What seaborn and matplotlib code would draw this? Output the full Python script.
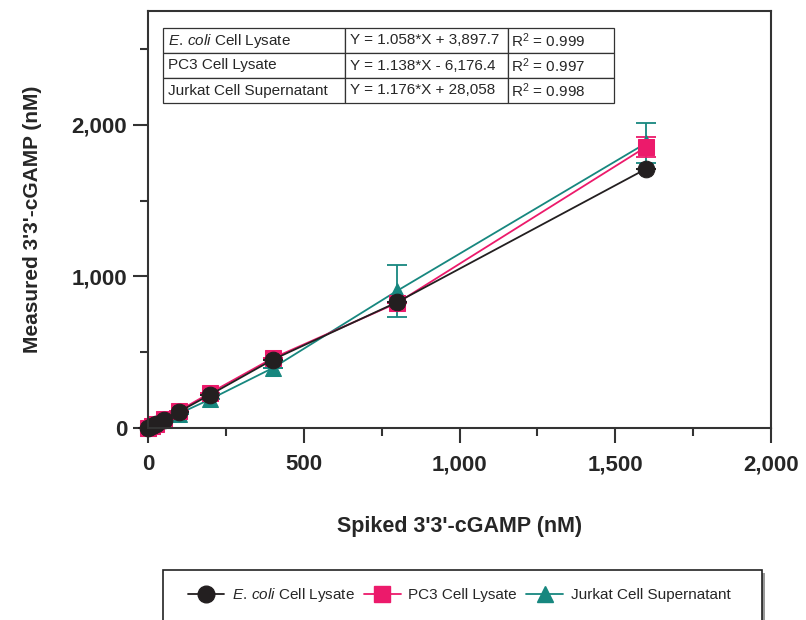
import numpy as np
import pandas as pd
import matplotlib.pyplot as plt
import matplotlib.patches as mpatches
from matplotlib.lines import Line2D
from matplotlib.ticker import MultipleLocator, FuncFormatter
import seaborn as sns

# data
spiked = [0, 12.5, 25, 50, 100, 200, 400, 800, 1600]
ecoli = [2, 14, 28, 55, 108, 220, 450, 830, 1710]
pc3 = [0, 13, 27, 57, 115, 232, 460, 825, 1855]
jurkat = [3, 16, 30, 52, 95, 190, 395, 905, 1880]
ecoli_err = [0, 0, 0, 0, 0, 0, 0, 0, 0]
pc3_err = [0, 0, 0, 0, 0, 0, 0, 0, 65]
jurkat_err = [0, 0, 0, 0, 0, 0, 0, 170, 133]

names = [r"$\it{E.\,coli}$ Cell Lysate", "PC3 Cell Lysate", "Jurkat Cell Supernatant"]
equations = ["Y = 1.058*X + 3,897.7", "Y = 1.138*X - 6,176.4", "Y = 1.176*X + 28,058"]
r_squared = ["R$^2$ = 0.999", "R$^2$ = 0.997", "R$^2$ = 0.998"]

colors = ["#231f20", "#ec1a6b", "#17877f"]
markers = ["o", "s", "^"]

sns.set_style("ticks")
plt.rcParams['font.family'] = ['Liberation Sans', 'DejaVu Sans']
plt.rcParams['mathtext.fontset'] = 'custom'
plt.rcParams['mathtext.rm'] = 'Liberation Sans'
plt.rcParams['mathtext.it'] = 'Liberation Sans:italic'
plt.rcParams['mathtext.bf'] = 'Liberation Sans:bold'

df = pd.concat([
    pd.DataFrame({"x": spiked, "y": vals, "sample": n})
    for vals, n in zip([ecoli, pc3, jurkat], names)
])

fig = plt.figure(figsize=(8.06, 6.2), dpi=100)
ax = fig.add_axes([148/806, 1 - 428/620, 623/806, 417/620])

# draw teal first so black sits on top
order = names[::-1]
sns.lineplot(data=df, x="x", y="y", hue="sample", style="sample",
             hue_order=order, style_order=order,
             palette=dict(zip(names, colors)),
             markers=dict(zip(names, markers)), dashes=False,
             markersize=12, linewidth=1.3, errorbar=None, legend=False, ax=ax)

for vals, err, c in list(zip([ecoli, pc3, jurkat], [ecoli_err, pc3_err, jurkat_err], colors))[::-1]:
    ax.errorbar(spiked, vals, yerr=err, fmt="none", color=c, ecolor=c, elinewidth=1.3,
                capsize=7, capthick=1.3, zorder=1)

for line in ax.lines:
    line.set_markeredgecolor(line.get_color())
    line.set_clip_on(False)

ax.set_xlim(0, 2000)
ax.set_ylim(0, 2750)
ax.xaxis.set_major_locator(MultipleLocator(500))
ax.xaxis.set_minor_locator(MultipleLocator(250))
ax.yaxis.set_major_locator(MultipleLocator(1000))
ax.yaxis.set_minor_locator(MultipleLocator(500))
fmt = FuncFormatter(lambda v, p: f"{int(v):,}")
ax.xaxis.set_major_formatter(fmt)
ax.yaxis.set_major_formatter(fmt)

for side in ax.spines:
    ax.spines[side].set_linewidth(1.5)
    ax.spines[side].set_color("#333333")
ax.tick_params(axis="both", which="major", length=11, width=1.5, color="#333333",
               labelsize=16)
ax.tick_params(axis="both", which="minor", length=6, width=1.5, color="#333333")
ax.tick_params(axis="x", which="major", pad=8)
ax.tick_params(axis="y", which="major", pad=4)
for lab in ax.get_xticklabels() + ax.get_yticklabels():
    lab.set_fontweight("bold")

ax.set_xlabel("Spiked 3'3'-cGAMP (nM)", fontsize=15.5, fontweight="bold", labelpad=29)
ax.set_ylabel("Measured 3'3'-cGAMP (nM)", fontsize=15, fontweight="bold", labelpad=21)

# fit table
cell_text = [[n, e, r] for n, e, r in zip(names, equations, r_squared)]
tbl = ax.table(cellText=cell_text, cellLoc="left", colWidths=[0.404, 0.361, 0.235],
               bbox=[15/623, (428-103)/417, 451/623, 75/417])
tbl.auto_set_font_size(False)
tbl.set_fontsize(11)
for cell in tbl.get_celld().values():
    cell.set_linewidth(0.9)
    cell.set_edgecolor("#333333")
    cell.PAD = 0.03

# legend below with a shadowed box
fig.patches.append(mpatches.Rectangle((166/806, -0.05), 599/806, (620-573)/620 + 0.05,
                                      transform=fig.transFigure, facecolor="#999999",
                                      edgecolor="none", zorder=0))
fig.patches.append(mpatches.Rectangle((163/806, -0.05), 599/806, (620-570)/620 + 0.05,
                                      transform=fig.transFigure, facecolor="white",
                                      edgecolor="#222222", linewidth=1.2, zorder=1))
handles = [Line2D([], [], color=c, marker=m, markersize=12, markeredgecolor=c, linewidth=1.3)
           for c, m in zip(colors, markers)]
fig.legend(handles, names, loc="center", bbox_to_anchor=(459/806, 1 - 595/620), ncol=3,
           frameon=False, fontsize=11, handlelength=2.4, columnspacing=0.6, handletextpad=0.5)

fig.savefig("out.png", dpi=100)
